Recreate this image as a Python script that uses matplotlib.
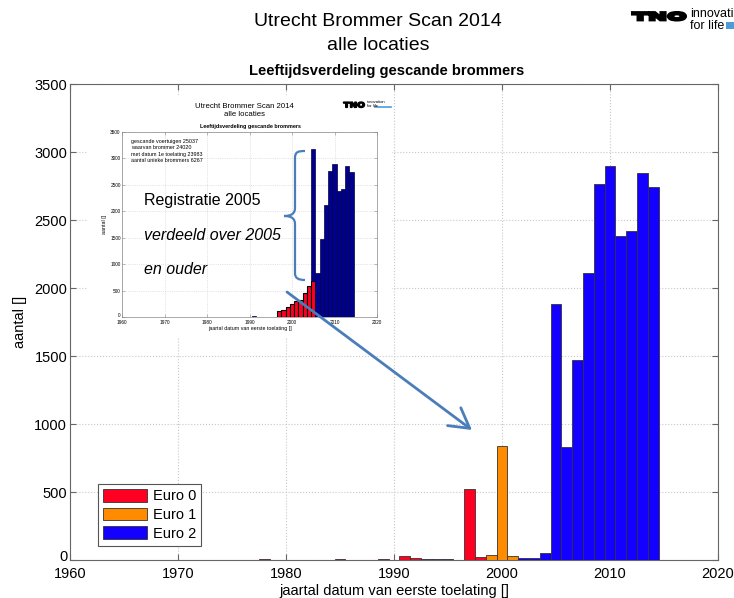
import matplotlib
matplotlib.use("Agg")
import matplotlib.pyplot as plt
from matplotlib.patches import Rectangle, Patch, PathPatch
from matplotlib.path import Path
from matplotlib.textpath import TextPath
from matplotlib.font_manager import FontProperties
from matplotlib.transforms import Affine2D, ScaledTranslation

plt.rcParams['font.family'] = ['Liberation Sans', 'DejaVu Sans']

# ---------------- data (main chart) ----------------
euro0_years = [1978, 1985, 1989, 1991, 1992, 1997, 1998]
euro0_values = [4, 4, 4, 28, 15, 520, 22]
euro1_years = [1999, 2000, 2001]
euro1_values = [38, 835, 33]
euro2_years = [1962, 1964, 1966, 1967, 1968, 1972, 1982, 1984, 1986, 1988,
               1993, 1994, 1995, 2002, 2003, 2004, 2005, 2006, 2007, 2008,
               2009, 2010, 2011, 2012, 2013, 2014]
euro2_values = [2, 2, 2, 2, 2, 2, 2, 2, 2, 2,
                5, 4, 4, 13, 18, 50, 1885, 830, 1468, 2110,
                2762, 2900, 2380, 2422, 2848, 2745]
legend_labels = ["Euro 0", "Euro 1", "Euro 2"]

# ---------------- data (inset: earlier chart) ----------------
inset_red_years = [1997, 1998, 1999, 2000, 2001, 2002, 2003, 2004, 2005]
inset_red_values = [110, 140, 190, 250, 310, 330, 450, 590, 680]
inset_blue_years = [1991, 2005, 2006, 2007, 2008, 2009, 2010, 2011, 2012, 2013, 2014]
inset_blue_values = [20, 2500, 830, 1470, 2110, 2760, 2900, 2380, 2420, 2850, 2740]
inset_notes = ["gescande voertuigen 25037", "waarvan brommer 24020",
               "met datum 1e toelating 23983", "aantal unieke brommers 6267"]

x_ticks = [1960, 1970, 1980, 1990, 2000, 2010, 2020]
y_ticks = [0, 500, 1000, 1500, 2000, 2500, 3000, 3500]

RED = '#FF0022'
ORANGE = '#FF8C00'
BLUE = '#1400FF'
NAVY = '#00008C'
EDGE = '#333333'
ARROW = '#4A7EBB'

W, H = 734, 598
fig = plt.figure(figsize=(W / 100, H / 100), dpi=100)


def fx(px):
    return px / W


def fy(py):
    return 1 - py / H


def lift_zero_label(axis_obj, pts):
    lbl = axis_obj.get_yticklabels()[0]
    lbl.set_transform(lbl.get_transform() + ScaledTranslation(0, pts / 72, fig.dpi_scale_trans))


# ---------------- main axes ----------------
ax = fig.add_axes([fx(70), fy(560), fx(718) - fx(70), fy(84) - fy(560)])
ax.bar(euro0_years, euro0_values, width=1.0, color=RED, edgecolor=EDGE, linewidth=0.6, zorder=3)
ax.bar(euro1_years, euro1_values, width=1.0, color=ORANGE, edgecolor=EDGE, linewidth=0.6, zorder=3)
ax.bar(euro2_years, euro2_values, width=1.0, color=BLUE, edgecolor=EDGE, linewidth=0.6, zorder=3)
ax.set_xlim(1960, 2020)
ax.set_ylim(0, 3500)
ax.set_xticks(x_ticks)
ax.set_yticks(y_ticks)
ax.tick_params(direction='in', top=True, right=True, labelsize=10.5, length=4,
               color='#666666')
ax.tick_params(axis='x', pad=5)
ax.tick_params(axis='y', pad=2)
lift_zero_label(ax, 3)
ax.grid(True, linestyle=':', color='#c8c8c8', linewidth=0.8, zorder=0)
for s in ax.spines.values():
    s.set_color('#666666')
    s.set_linewidth(0.8)
ax.set_xlabel("jaartal datum van eerste toelating []", fontsize=10.5, labelpad=2)
ax.set_ylabel("aantal []", fontsize=10.5, labelpad=5)

handles = [Patch(facecolor=c, edgecolor=EDGE, linewidth=0.6) for c in (RED, ORANGE, BLUE)]
leg = ax.legend(handles, legend_labels, loc='lower left', bbox_to_anchor=(0.043, 0.03),
                borderaxespad=0, fontsize=10.5, handlelength=3.0, handleheight=0.95,
                labelspacing=0.3, handletextpad=0.4, borderpad=0.35,
                fancybox=False, framealpha=1, edgecolor='#555555')
leg.get_frame().set_linewidth(0.8)

# ---------------- titles ----------------
fig.text(fx(378), fy(22), "Utrecht Brommer Scan 2014", ha='center', va='center', fontsize=14)
fig.text(fx(378), fy(45), "alle locaties", ha='center', va='center', fontsize=14)
fig.text(fx(387), fy(71), "Leeftijdsverdeling gescande brommers", ha='center', va='center',
         fontsize=10.6, fontweight='bold')


def logo(x0, y_top, w, h, lw):
    fp = FontProperties(family='DejaVu Sans', weight='heavy')
    tp = TextPath((0, 0), "TNO", size=1, prop=fp)
    ext = tp.get_extents()
    tr = (Affine2D().translate(-ext.x0, -ext.y0)
          .scale((fx(x0 + w) - fx(x0)) / ext.width, (fy(y_top) - fy(y_top + h)) / ext.height)
          .translate(fx(x0), fy(y_top + h)))
    fig.patches.append(PathPatch(tp, transform=tr + fig.transFigure, facecolor='black',
                                 edgecolor='black', linewidth=lw, joinstyle='miter',
                                 zorder=5))


# main TNO logo
logo(632.5, 12.5, 53, 7.5, 2.2)
fig.text(fx(690), fy(14), "innovation", ha='left', va='center', fontsize=9)
fig.text(fx(690), fy(26), "for life", ha='left', va='center', fontsize=9)
fig.patches.append(Rectangle((fx(726), fy(29)), fx(8), fy(22) - fy(29), transform=fig.transFigure,
                             facecolor='#4F9BD9', edgecolor='none', zorder=5))

# ---------------- inset (image of earlier chart) ----------------
fig.patches.append(Rectangle((fx(88), fy(338)), fx(392) - fx(88), fy(95) - fy(338),
                             transform=fig.transFigure, facecolor='white', edgecolor='none',
                             zorder=1.5))
iax = fig.add_axes([fx(122), fy(317), fx(377) - fx(122), fy(132) - fy(317)], zorder=2)
red_lookup = dict(zip(inset_red_years, inset_red_values))
iax.bar(inset_red_years, inset_red_values, width=1.0, color=RED, edgecolor='black',
        linewidth=0.8, zorder=3)
iax.bar(inset_blue_years, inset_blue_values, width=1.0,
        bottom=[red_lookup.get(y, 0) for y in inset_blue_years],
        color=NAVY, edgecolor='#000040', linewidth=0.5, zorder=3)
iax.set_xlim(1960, 2020)
iax.set_ylim(0, 3500)
iax.set_xticks(x_ticks)
iax.set_yticks(y_ticks)
iax.tick_params(direction='in', top=True, right=True, labelsize=3.4, length=2,
                color='#888888', pad=1, width=0.4)
iax.tick_params(axis='x', pad=2)
lift_zero_label(iax, 1.2)
iax.grid(True, linestyle=':', color='#cccccc', linewidth=0.5, zorder=0)
for s in iax.spines.values():
    s.set_color('#888888')
    s.set_linewidth(0.5)
iax.set_xlabel("jaartal datum van eerste toelating []", fontsize=3.8, labelpad=1.2)
iax.set_ylabel("aantal []", fontsize=3.8, labelpad=2)
for i, note in enumerate(inset_notes):
    iax.text(0.035, 0.95 - i * 0.035, note, transform=iax.transAxes, fontsize=3.9,
             ha='left', va='center', zorder=4)

fig.text(fx(244), fy(106), "Utrecht Brommer Scan 2014", ha='center', va='center',
         fontsize=5.6, zorder=3)
fig.text(fx(244), fy(115), "alle locaties", ha='center', va='center', fontsize=5.6, zorder=3)
fig.text(fx(250), fy(126.5), "Leeftijdsverdeling gescande brommers", ha='center',
         va='center', fontsize=3.9, fontweight='bold', zorder=3)
logo(343.5, 102, 21, 5.5, 1.0)
fig.text(fx(367), fy(102), "innovation", ha='left', va='center', fontsize=3, zorder=3)
fig.text(fx(367), fy(106.5), "for life", ha='left', va='center', fontsize=3, zorder=3)
fig.add_artist(plt.Line2D([fx(375), fx(391)], [fy(107), fy(107)], transform=fig.transFigure,
                          color='#4F9BD9', linewidth=1.2, zorder=3))

# annotation texts on the inset
fig.text(fx(144), fy(200), "Registratie 2005", ha='left', va='center', fontsize=11.5, zorder=6)
fig.text(fx(144), fy(235), "verdeeld over 2005", ha='left', va='center', fontsize=11.5,
         style='italic', zorder=6)
fig.text(fx(144), fy(269), "en ouder", ha='left', va='center', fontsize=11.5,
         style='italic', zorder=6)

# curly brace
pts = [(305, 151), (298, 151), (295, 152), (295, 158),
       (295, 208),
       (295, 213), (292, 216), (284, 216),
       (292, 216), (295, 219), (295, 224),
       (295, 273),
       (295, 278), (298, 280), (305, 280)]
codes = [Path.MOVETO, Path.CURVE4, Path.CURVE4, Path.CURVE4,
         Path.LINETO,
         Path.CURVE4, Path.CURVE4, Path.CURVE4,
         Path.CURVE4, Path.CURVE4, Path.CURVE4,
         Path.LINETO,
         Path.CURVE4, Path.CURVE4, Path.CURVE4]
brace = Path([(fx(x), fy(y)) for x, y in pts], codes)
fig.patches.append(PathPatch(brace, transform=fig.transFigure, facecolor='none',
                             edgecolor=ARROW, linewidth=1.6, zorder=6))

# arrow
fig.add_artist(matplotlib.patches.FancyArrowPatch(
    (fx(287), fy(292)), (fx(472), fy(430)), transform=fig.transFigure,
    arrowstyle='->,head_length=0.7,head_width=0.4', mutation_scale=20,
    color=ARROW, linewidth=2, zorder=7, shrinkA=0, shrinkB=0))

fig.savefig("out.png", dpi=100)
